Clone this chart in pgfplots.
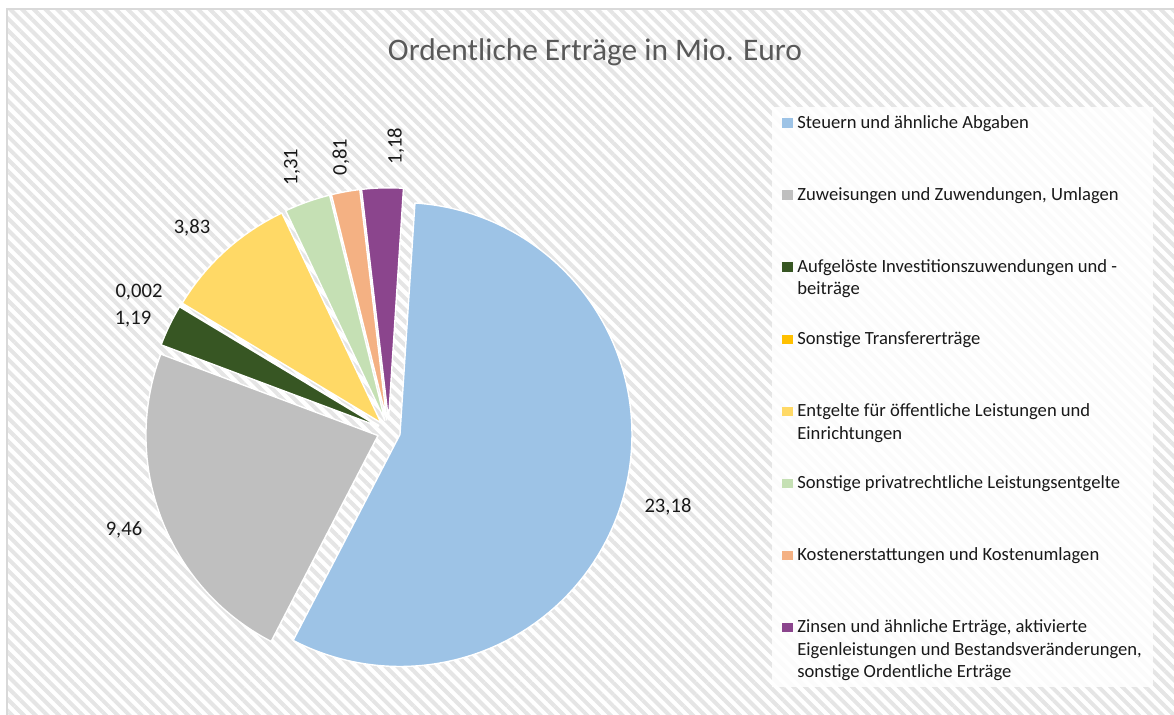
\documentclass[border=0pt]{standalone}
\usepackage{pgfplots}
\pgfplotsset{compat=1.18}
\usepackage{fontspec}
\setmainfont{Carlito}
\usetikzlibrary{patterns.meta}

\definecolor{cBlue}{HTML}{9DC3E6}
\definecolor{cGray}{HTML}{BFBFBF}
\definecolor{cDGreen}{HTML}{375623}
\definecolor{cGold}{HTML}{FFC000}
\definecolor{cYellow}{HTML}{FFD966}
\definecolor{cLGreen}{HTML}{C5E0B4}
\definecolor{cOrange}{HTML}{F4B183}
\definecolor{cPurple}{HTML}{8B458D}
\definecolor{cFrame}{HTML}{D9D9D9}
\definecolor{cTitle}{HTML}{595959}

% values (Mio. Euro)
\def\vA{23.18}\def\vB{9.46}\def\vC{1.19}\def\vD{0.002}
\def\vE{3.83}\def\vF{1.31}\def\vG{0.81}\def\vH{1.18}
\pgfmathsetmacro\tot{\vA+\vB+\vC+\vD+\vE+\vF+\vG+\vH}
\pgfmathsetmacro\aA{86.3}
\pgfmathsetmacro\aB{\aA-\vA/\tot*360}
\pgfmathsetmacro\aC{\aB-\vB/\tot*360}
\pgfmathsetmacro\aD{\aC-\vC/\tot*360}
\pgfmathsetmacro\aE{\aD-\vD/\tot*360}
\pgfmathsetmacro\aF{\aE-\vE/\tot*360}
\pgfmathsetmacro\aG{\aF-\vF/\tot*360}
\pgfmathsetmacro\aH{\aG-\vG/\tot*360}
\pgfmathsetmacro\aI{\aH-\vH/\tot*360}

\newcommand\slice[3]{%
  \pgfmathsetmacro\mA{(#1+#2)/2}%
  \pgfmathsetmacro\tX{388.8+11.6*cos(\mA)}%
  \pgfmathsetmacro\tY{283.6+11.6*sin(\mA)}%
  \edef\doslice{\noexpand\fill[#3,draw=white,line width=0.7pt,line join=round] (axis cs:\tX,\tY) -- ++(#1:116pt) arc[start angle=#1,end angle=#2,radius=116pt] -- cycle;}%
  \doslice}

\newcommand\legmark[2]{% color, baseline y (axis)
  \pgfmathsetmacro\yA{#2+0.6}\pgfmathsetmacro\yB{#2+10}%
  \edef\dolm{\noexpand\fill[#1] (axis cs:782,\yA) rectangle (axis cs:792.7,\yB);}%
  \dolm}

\begin{document}
\begin{tikzpicture}
\begin{axis}[name=ax, scale only axis, width=587pt, height=357.5pt,
  xmin=0, xmax=1174, ymin=0, ymax=715, hide axis, clip=false]
% background
\fill[pattern={Lines[angle=-45,distance=4.15pt,line width=2pt]}, pattern color=black!10]
  (axis cs:7,0) rectangle (axis cs:1174,706);
\draw[cFrame, line width=0.8pt] (axis cs:7,0) -- (axis cs:7,706) -- (axis cs:1174,706);
% title
\node[anchor=base, inner sep=0, text=cTitle, font=\fontsize{15.7}{18}\selectfont]
  at (axis cs:595,654) {Ordentliche Erträge in Mio. Euro};
% pie
\slice{\aA}{\aB}{cBlue}
\slice{\aB}{\aC}{cGray}
\slice{\aC}{\aD}{cDGreen}
\slice{\aD}{\aE}{cGold}
\slice{\aE}{\aF}{cYellow}
\slice{\aF}{\aG}{cLGreen}
\slice{\aG}{\aH}{cOrange}
\slice{\aH}{\aI}{cPurple}
% data labels
\begin{scope}[every node/.style={inner sep=0, font=\fontsize{10.3}{12}\selectfont, text=black!90}]
\node at (axis cs:668,208) {23,18};
\node at (axis cs:124,185) {9,46};
\node at (axis cs:133,396) {1,19};
\node at (axis cs:139,423) {0,002};
\node at (axis cs:192,487) {3,83};
\node[rotate=90] at (axis cs:292,548) {1,31};
\node[rotate=90] at (axis cs:341,558) {0,81};
\node[rotate=90] at (axis cs:396,569) {1,18};
\end{scope}
% legend
\fill[white, fill opacity=0.85] (axis cs:772,28) rectangle (axis cs:1153,608);
\legmark{cBlue}{586.7}
\legmark{cGray}{514.6}
\legmark{cDGreen}{442.5}
\legmark{cGold}{370.4}
\legmark{cYellow}{298.3}
\legmark{cLGreen}{226.2}
\legmark{cOrange}{154.1}
\legmark{cPurple}{82.0}
\begin{scope}[every node/.style={anchor=base west, inner sep=0, font=\fontsize{9.3}{11}\selectfont, text=black!90}]
\node at (axis cs:797,586.7) {Steuern und ähnliche Abgaben};
\node at (axis cs:797,514.6) {Zuweisungen und Zuwendungen, Umlagen};
\node at (axis cs:797,442.5) {Aufgelöste Investitionszuwendungen und -};
\node at (axis cs:797,420.0) {beiträge};
\node at (axis cs:797,370.4) {Sonstige Transfererträge};
\node at (axis cs:797,298.3) {Entgelte für öffentliche Leistungen und};
\node at (axis cs:797,275.8) {Einrichtungen};
\node at (axis cs:797,226.2) {Sonstige privatrechtliche Leistungsentgelte};
\node at (axis cs:797,154.1) {Kostenerstattungen und Kostenumlagen};
\node at (axis cs:797,82.0) {Zinsen und ähnliche Erträge, aktivierte};
\node at (axis cs:797,59.5) {Eigenleistungen und Bestandsveränderungen,};
\node at (axis cs:797,37.0) {sonstige Ordentliche Erträge};
\end{scope}
\end{axis}
\pgfresetboundingbox
\path (ax.south west) rectangle (ax.north east);
\end{tikzpicture}
\end{document}
